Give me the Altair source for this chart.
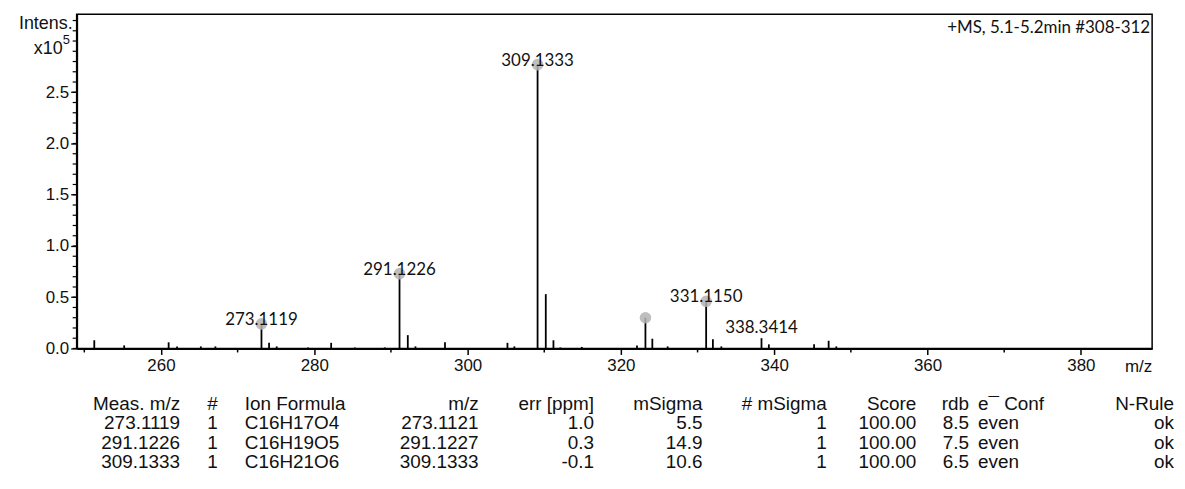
import altair as alt
import pandas as pd

# ---------------- spectrum data (intensity in units of 1e5) ----------------
peak_mz = [251.3, 255.2, 261.0, 262.1, 265.2, 267.1, 273.11, 274.1, 275.1, 279.2,
           282.2, 285.3, 289.2, 291.12, 292.2, 293.2, 297.05, 305.2, 306.1, 309.13,
           310.2, 311.2, 312.1, 314.9, 322.1, 323.2, 324.1, 326.1, 331.12, 332.0,
           333.1, 338.34, 339.3, 345.2, 347.1, 348.1]
peak_int = [0.08, 0.03, 0.06, 0.02, 0.02, 0.02, 0.24, 0.055, 0.02, 0.01,
            0.055, 0.01, 0.01, 0.73, 0.13, 0.02, 0.06, 0.055, 0.02, 2.77,
            0.53, 0.08, 0.01, 0.015, 0.03, 0.30, 0.095, 0.02, 0.46, 0.09,
            0.02, 0.10, 0.04, 0.04, 0.075, 0.02]

marker_mz = [273.11, 291.12, 309.13, 323.2, 331.12]
marker_int = [0.24, 0.73, 2.77, 0.30, 0.46]

label_mz = [273.11, 291.12, 309.13, 331.12, 338.34]
label_int = [0.24, 0.73, 2.77, 0.46, 0.10]
label_text = ["273.1119", "291.1226", "309.1333", "331.1150", "338.3414"]
label_marked = [True, True, True, True, False]

x_major = list(range(260, 390, 20))
x_minor = list(range(250, 390, 20))
y_major = [0.0, 0.5, 1.0, 1.5, 2.0, 2.5]
y_minor = [round(i * 0.1, 1) for i in range(0, 33)]

# ---------------- table data ----------------
col_names = ["Meas. m/z", "#", "Ion Formula", "m/z", "err [ppm]", "mSigma",
             "# mSigma", "Score", "rdb", "e\u00af Conf", "N-Rule"]
meas_mz = ["273.1119", "291.1226", "309.1333"]
num = ["1", "1", "1"]
ion_formula = ["C16H17O4", "C16H19O5", "C16H21O6"]
calc_mz = ["273.1121", "291.1227", "309.1333"]
err_ppm = ["1.0", "0.3", "-0.1"]
msigma = ["5.5", "14.9", "10.6"]
n_msigma = ["1", "1", "1"]
score = ["100.00", "100.00", "100.00"]
rdb = ["8.5", "7.5", "6.5"]
e_conf = ["even", "even", "even"]
n_rule = ["ok", "ok", "ok"]
columns = [meas_mz, num, ion_formula, calc_mz, err_ppm, msigma, n_msigma,
           score, rdb, e_conf, n_rule]

# layout of the table columns (anchor in px inside plot frame, alignment)
col_anchor = [104, 136.5, 169, 404, 520, 629, 754, 844, 897, 906, 1103]
col_align = ["right", "center", "left", "right", "right", "right", "right",
             "right", "right", "left", "right"]

# ---------------- frames ----------------
peaks = pd.DataFrame({"mz": peak_mz, "intensity": peak_int})
markers = pd.DataFrame({"mz": marker_mz, "intensity": marker_int})
labels = pd.DataFrame({"mz": label_mz, "intensity": label_int,
                       "text": label_text, "marked": label_marked})

rows = []
for ci, (name, vals) in enumerate(zip(col_names, columns)):
    rows.append({"col": ci, "row": 0, "text": name})
    for ri, v in enumerate(vals):
        rows.append({"col": ci, "row": ri + 1, "text": v})
table = pd.DataFrame(rows)

AXFONT = "Liberation Sans"
LBLFONT = "Lato"
H = 336

xscale = alt.Scale(domain=[249, 389.3], nice=False, zero=False)
yscale = alt.Scale(domain=[0, 3.262], nice=False, zero=True)

x_axis = alt.Axis(
    values=x_major, title=None, grid=False, format="d", labelOverlap=False,
    tickSize=6, labelFont=AXFONT, labelFontSize=17, labelColor="#111", labelPadding=3,
    domainColor="black", domainWidth=2, tickColor="black", tickWidth=1.5,
)
y_axis = alt.Axis(
    values=y_major, title=None, grid=False, format=".1f", labelOverlap=False,
    tickSize=6, labelFont=AXFONT, labelFontSize=17, labelColor="#111", labelPadding=2,
    domainColor="black", domainWidth=2, tickColor="black", tickWidth=1.3,
)

rules = alt.Chart(peaks).mark_rule(color="black", strokeWidth=1.8).encode(
    x=alt.X("mz:Q", scale=xscale, axis=x_axis),
    y=alt.Y("intensity:Q", scale=yscale, axis=y_axis),
    y2=alt.datum(0),
)

xminor = alt.Chart(pd.DataFrame({"v": x_minor})).mark_rule(
    color="black", strokeWidth=1.5
).encode(
    x=alt.X("v:Q", scale=xscale),
    y=alt.value(H + 1), y2=alt.value(H + 4),
)
yminor = alt.Chart(pd.DataFrame({"v": y_minor})).mark_rule(
    color="black", strokeWidth=1.2
).encode(
    y=alt.Y("v:Q", scale=yscale),
    x=alt.value(-4), x2=alt.value(0),
)

circles = alt.Chart(markers).mark_circle(size=135, color="#b3b3b3", opacity=0.85).encode(
    x=alt.X("mz:Q", scale=xscale),
    y=alt.Y("intensity:Q", scale=yscale),
)

lbl_marked = alt.Chart(labels).transform_filter("datum.marked").mark_text(
    font=LBLFONT, fontSize=17, color="#111", baseline="middle", dy=-4
).encode(
    x=alt.X("mz:Q", scale=xscale),
    y=alt.Y("intensity:Q", scale=yscale),
    text="text:N",
)
lbl_plain = alt.Chart(labels).transform_filter("!datum.marked").mark_text(
    font=LBLFONT, fontSize=17, color="#111", baseline="middle", dy=-10
).encode(
    x=alt.X("mz:Q", scale=xscale),
    y=alt.Y("intensity:Q", scale=yscale),
    text="text:N",
)


def note(txt, x, y, align, font, size):
    return alt.Chart(pd.DataFrame({"t": [txt]})).mark_text(
        align=align, baseline="middle", font=font, fontSize=size, color="#111"
    ).encode(x=alt.value(x), y=alt.value(y), text="t:N")


notes = [
    note("Intens.", -4, 10, "right", AXFONT, 18),
    note("x10", -14, 35, "right", AXFONT, 18),
    note("5", -14, 26, "left", AXFONT, 13),
    note("+MS, 5.1-5.2min #308-312", 1079, 14, "right", LBLFONT, 17),
    note("m/z", 1081, 355, "right", AXFONT, 17),
]

spectrum = alt.layer(rules, xminor, yminor, circles, lbl_marked, lbl_plain, *notes)

tyscale = alt.Scale(domain=[0, 3], range=[392, 450])
tlayers = []
for ci in range(len(col_names)):
    tlayers.append(
        alt.Chart(table).transform_filter(alt.datum.col == ci).mark_text(
            align=col_align[ci], baseline="middle", font=AXFONT, fontSize=19, color="#111"
        ).encode(
            x=alt.value(col_anchor[ci]),
            y=alt.Y("row:Q", scale=tyscale, axis=None),
            text="text:N",
        )
    )
table_layer = alt.layer(*tlayers)

chart = alt.layer(spectrum, table_layer).resolve_scale(y="independent").properties(
    width=1081, height=H,
    autosize=alt.AutoSizeParams(type="none"),
    padding={"left": 69, "top": 5, "right": 25, "bottom": 130},
    background="white",
).configure_view(stroke="black", strokeWidth=1.5)

chart.save("out.html", embed_options={"renderer": "svg", "actions": False})
